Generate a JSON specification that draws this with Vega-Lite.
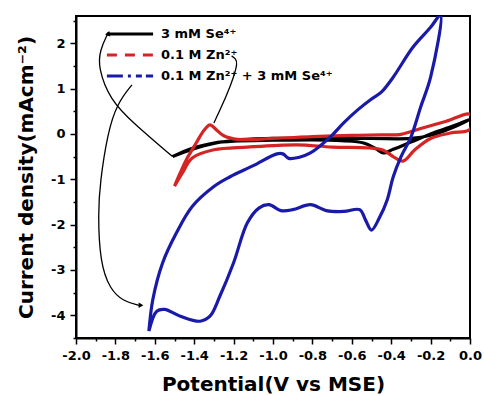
{
  "$schema": "https://vega.github.io/schema/vega-lite/v6.json",
  "width": 394,
  "height": 322,
  "autosize": "none",
  "padding": {"left": 76, "top": 16, "right": 14, "bottom": 58},
  "background": "white",
  "config": {
    "view": {"stroke": "black", "strokeWidth": 2},
    "font": "DejaVu Sans",
    "axis": {"labelOverlap": false}
  },
  "datasets": {
    "cv": [
      {"s": "3 mM Se⁴⁺", "i": 1, "v": -1.51, "c": -0.5},
      {"s": "3 mM Se⁴⁺", "i": 2, "v": -1.45, "c": -0.38},
      {"s": "3 mM Se⁴⁺", "i": 3, "v": -1.39, "c": -0.29},
      {"s": "3 mM Se⁴⁺", "i": 4, "v": -1.3, "c": -0.2},
      {"s": "3 mM Se⁴⁺", "i": 5, "v": -1.2, "c": -0.16},
      {"s": "3 mM Se⁴⁺", "i": 6, "v": -1.0, "c": -0.14},
      {"s": "3 mM Se⁴⁺", "i": 7, "v": -0.8, "c": -0.13},
      {"s": "3 mM Se⁴⁺", "i": 8, "v": -0.65, "c": -0.15},
      {"s": "3 mM Se⁴⁺", "i": 9, "v": -0.54, "c": -0.2},
      {"s": "3 mM Se⁴⁺", "i": 10, "v": -0.48, "c": -0.32},
      {"s": "3 mM Se⁴⁺", "i": 11, "v": -0.44, "c": -0.42},
      {"s": "3 mM Se⁴⁺", "i": 12, "v": -0.39, "c": -0.34},
      {"s": "3 mM Se⁴⁺", "i": 13, "v": -0.3, "c": -0.18},
      {"s": "3 mM Se⁴⁺", "i": 14, "v": -0.2, "c": 0.0},
      {"s": "3 mM Se⁴⁺", "i": 15, "v": -0.1, "c": 0.15},
      {"s": "3 mM Se⁴⁺", "i": 16, "v": 0.0, "c": 0.32},
      {"s": "3 mM Se⁴⁺", "i": 17, "v": -0.1, "c": 0.12},
      {"s": "3 mM Se⁴⁺", "i": 18, "v": -0.2, "c": -0.03},
      {"s": "3 mM Se⁴⁺", "i": 19, "v": -0.3, "c": -0.1},
      {"s": "3 mM Se⁴⁺", "i": 20, "v": -0.5, "c": -0.1},
      {"s": "3 mM Se⁴⁺", "i": 21, "v": -0.8, "c": -0.09},
      {"s": "3 mM Se⁴⁺", "i": 22, "v": -1.0, "c": -0.1},
      {"s": "3 mM Se⁴⁺", "i": 23, "v": -1.2, "c": -0.14},
      {"s": "3 mM Se⁴⁺", "i": 24, "v": -1.35, "c": -0.26},
      {"s": "3 mM Se⁴⁺", "i": 25, "v": -1.45, "c": -0.4},
      {"s": "3 mM Se⁴⁺", "i": 26, "v": -1.51, "c": -0.5},

      {"s": "0.1 M Zn²⁺", "i": 1, "v": -1.5, "c": -1.15},
      {"s": "0.1 M Zn²⁺", "i": 2, "v": -1.47, "c": -0.85},
      {"s": "0.1 M Zn²⁺", "i": 3, "v": -1.44, "c": -0.57},
      {"s": "0.1 M Zn²⁺", "i": 4, "v": -1.39, "c": -0.2},
      {"s": "0.1 M Zn²⁺", "i": 5, "v": -1.35, "c": 0.08},
      {"s": "0.1 M Zn²⁺", "i": 6, "v": -1.32, "c": 0.2},
      {"s": "0.1 M Zn²⁺", "i": 7, "v": -1.29, "c": 0.1},
      {"s": "0.1 M Zn²⁺", "i": 8, "v": -1.25, "c": -0.04},
      {"s": "0.1 M Zn²⁺", "i": 9, "v": -1.18, "c": -0.12},
      {"s": "0.1 M Zn²⁺", "i": 10, "v": -1.0, "c": -0.1},
      {"s": "0.1 M Zn²⁺", "i": 11, "v": -0.8, "c": -0.06},
      {"s": "0.1 M Zn²⁺", "i": 12, "v": -0.6, "c": -0.03},
      {"s": "0.1 M Zn²⁺", "i": 13, "v": -0.45, "c": -0.02},
      {"s": "0.1 M Zn²⁺", "i": 14, "v": -0.35, "c": -0.01},
      {"s": "0.1 M Zn²⁺", "i": 15, "v": -0.25, "c": 0.12},
      {"s": "0.1 M Zn²⁺", "i": 16, "v": -0.12, "c": 0.28},
      {"s": "0.1 M Zn²⁺", "i": 17, "v": 0.0, "c": 0.43},
      {"s": "0.1 M Zn²⁺", "i": 18, "v": 0.0, "c": 0.1},
      {"s": "0.1 M Zn²⁺", "i": 19, "v": -0.1, "c": 0.02},
      {"s": "0.1 M Zn²⁺", "i": 20, "v": -0.2, "c": -0.1},
      {"s": "0.1 M Zn²⁺", "i": 21, "v": -0.28, "c": -0.35},
      {"s": "0.1 M Zn²⁺", "i": 22, "v": -0.34, "c": -0.6},
      {"s": "0.1 M Zn²⁺", "i": 23, "v": -0.39, "c": -0.5},
      {"s": "0.1 M Zn²⁺", "i": 24, "v": -0.44, "c": -0.36},
      {"s": "0.1 M Zn²⁺", "i": 25, "v": -0.51, "c": -0.31},
      {"s": "0.1 M Zn²⁺", "i": 26, "v": -0.7, "c": -0.29},
      {"s": "0.1 M Zn²⁺", "i": 27, "v": -0.88, "c": -0.24},
      {"s": "0.1 M Zn²⁺", "i": 28, "v": -1.13, "c": -0.29},
      {"s": "0.1 M Zn²⁺", "i": 29, "v": -1.3, "c": -0.35},
      {"s": "0.1 M Zn²⁺", "i": 30, "v": -1.41, "c": -0.53},
      {"s": "0.1 M Zn²⁺", "i": 31, "v": -1.46, "c": -0.86},
      {"s": "0.1 M Zn²⁺", "i": 32, "v": -1.5, "c": -1.15},

      {"s": "0.1 M Zn²⁺ + 3 mM Se⁴⁺", "i": 1, "v": -1.63, "c": -4.35},
      {"s": "0.1 M Zn²⁺ + 3 mM Se⁴⁺", "i": 2, "v": -1.61, "c": -3.65},
      {"s": "0.1 M Zn²⁺ + 3 mM Se⁴⁺", "i": 3, "v": -1.56, "c": -2.84},
      {"s": "0.1 M Zn²⁺ + 3 mM Se⁴⁺", "i": 4, "v": -1.49, "c": -2.18},
      {"s": "0.1 M Zn²⁺ + 3 mM Se⁴⁺", "i": 5, "v": -1.41, "c": -1.6},
      {"s": "0.1 M Zn²⁺ + 3 mM Se⁴⁺", "i": 6, "v": -1.3, "c": -1.16},
      {"s": "0.1 M Zn²⁺ + 3 mM Se⁴⁺", "i": 7, "v": -1.22, "c": -0.95},
      {"s": "0.1 M Zn²⁺ + 3 mM Se⁴⁺", "i": 8, "v": -1.1, "c": -0.7},
      {"s": "0.1 M Zn²⁺ + 3 mM Se⁴⁺", "i": 9, "v": -0.98, "c": -0.44},
      {"s": "0.1 M Zn²⁺ + 3 mM Se⁴⁺", "i": 10, "v": -0.95, "c": -0.44},
      {"s": "0.1 M Zn²⁺ + 3 mM Se⁴⁺", "i": 11, "v": -0.92, "c": -0.54},
      {"s": "0.1 M Zn²⁺ + 3 mM Se⁴⁺", "i": 12, "v": -0.87, "c": -0.52},
      {"s": "0.1 M Zn²⁺ + 3 mM Se⁴⁺", "i": 13, "v": -0.81, "c": -0.42},
      {"s": "0.1 M Zn²⁺ + 3 mM Se⁴⁺", "i": 14, "v": -0.71, "c": -0.07},
      {"s": "0.1 M Zn²⁺ + 3 mM Se⁴⁺", "i": 15, "v": -0.64, "c": 0.25},
      {"s": "0.1 M Zn²⁺ + 3 mM Se⁴⁺", "i": 16, "v": -0.57, "c": 0.53},
      {"s": "0.1 M Zn²⁺ + 3 mM Se⁴⁺", "i": 17, "v": -0.5, "c": 0.77},
      {"s": "0.1 M Zn²⁺ + 3 mM Se⁴⁺", "i": 18, "v": -0.45, "c": 0.92},
      {"s": "0.1 M Zn²⁺ + 3 mM Se⁴⁺", "i": 19, "v": -0.39, "c": 1.25},
      {"s": "0.1 M Zn²⁺ + 3 mM Se⁴⁺", "i": 20, "v": -0.29, "c": 1.91},
      {"s": "0.1 M Zn²⁺ + 3 mM Se⁴⁺", "i": 21, "v": -0.2, "c": 2.35},
      {"s": "0.1 M Zn²⁺ + 3 mM Se⁴⁺", "i": 22, "v": -0.15, "c": 2.62},
      {"s": "0.1 M Zn²⁺ + 3 mM Se⁴⁺", "i": 23, "v": -0.2, "c": 1.25},
      {"s": "0.1 M Zn²⁺ + 3 mM Se⁴⁺", "i": 24, "v": -0.25, "c": 0.6},
      {"s": "0.1 M Zn²⁺ + 3 mM Se⁴⁺", "i": 25, "v": -0.3, "c": -0.07},
      {"s": "0.1 M Zn²⁺ + 3 mM Se⁴⁺", "i": 26, "v": -0.35, "c": -0.5},
      {"s": "0.1 M Zn²⁺ + 3 mM Se⁴⁺", "i": 27, "v": -0.39, "c": -0.95},
      {"s": "0.1 M Zn²⁺ + 3 mM Se⁴⁺", "i": 28, "v": -0.42, "c": -1.45},
      {"s": "0.1 M Zn²⁺ + 3 mM Se⁴⁺", "i": 29, "v": -0.46, "c": -1.85},
      {"s": "0.1 M Zn²⁺ + 3 mM Se⁴⁺", "i": 30, "v": -0.5, "c": -2.12},
      {"s": "0.1 M Zn²⁺ + 3 mM Se⁴⁺", "i": 31, "v": -0.53, "c": -1.9},
      {"s": "0.1 M Zn²⁺ + 3 mM Se⁴⁺", "i": 32, "v": -0.56, "c": -1.67},
      {"s": "0.1 M Zn²⁺ + 3 mM Se⁴⁺", "i": 33, "v": -0.64, "c": -1.71},
      {"s": "0.1 M Zn²⁺ + 3 mM Se⁴⁺", "i": 34, "v": -0.73, "c": -1.69},
      {"s": "0.1 M Zn²⁺ + 3 mM Se⁴⁺", "i": 35, "v": -0.81, "c": -1.56},
      {"s": "0.1 M Zn²⁺ + 3 mM Se⁴⁺", "i": 36, "v": -0.9, "c": -1.67},
      {"s": "0.1 M Zn²⁺ + 3 mM Se⁴⁺", "i": 37, "v": -0.96, "c": -1.69},
      {"s": "0.1 M Zn²⁺ + 3 mM Se⁴⁺", "i": 38, "v": -1.02, "c": -1.56},
      {"s": "0.1 M Zn²⁺ + 3 mM Se⁴⁺", "i": 39, "v": -1.07, "c": -1.63},
      {"s": "0.1 M Zn²⁺ + 3 mM Se⁴⁺", "i": 40, "v": -1.13, "c": -1.96},
      {"s": "0.1 M Zn²⁺ + 3 mM Se⁴⁺", "i": 41, "v": -1.2, "c": -2.84},
      {"s": "0.1 M Zn²⁺ + 3 mM Se⁴⁺", "i": 42, "v": -1.27, "c": -3.58},
      {"s": "0.1 M Zn²⁺ + 3 mM Se⁴⁺", "i": 43, "v": -1.32, "c": -4.02},
      {"s": "0.1 M Zn²⁺ + 3 mM Se⁴⁺", "i": 44, "v": -1.37, "c": -4.13},
      {"s": "0.1 M Zn²⁺ + 3 mM Se⁴⁺", "i": 45, "v": -1.47, "c": -4.02},
      {"s": "0.1 M Zn²⁺ + 3 mM Se⁴⁺", "i": 46, "v": -1.55, "c": -3.87},
      {"s": "0.1 M Zn²⁺ + 3 mM Se⁴⁺", "i": 47, "v": -1.59, "c": -3.91},
      {"s": "0.1 M Zn²⁺ + 3 mM Se⁴⁺", "i": 48, "v": -1.63, "c": -4.35}
    ],
    "arrows": [
      {"a": "a1", "i": 1, "v": -1.51, "c": -0.5},
      {"a": "a1", "i": 2, "v": -1.71, "c": 0.24},
      {"a": "a1", "i": 3, "v": -1.827, "c": 0.75},
      {"a": "a1", "i": 4, "v": -1.888, "c": 1.47},
      {"a": "a1", "i": 5, "v": -1.878, "c": 1.85},
      {"a": "a1", "i": 6, "v": -1.84, "c": 2.2},
      {"a": "a2", "i": 1, "v": -1.716, "c": 1.08},
      {"a": "a2", "i": 2, "v": -1.79, "c": 0.68},
      {"a": "a2", "i": 3, "v": -1.84, "c": 0.02},
      {"a": "a2", "i": 4, "v": -1.878, "c": -1.08},
      {"a": "a2", "i": 5, "v": -1.888, "c": -1.74},
      {"a": "a2", "i": 6, "v": -1.878, "c": -2.84},
      {"a": "a2", "i": 7, "v": -1.827, "c": -3.43},
      {"a": "a2", "i": 8, "v": -1.76, "c": -3.69},
      {"a": "a2", "i": 9, "v": -1.68, "c": -3.78},
      {"a": "a3", "i": 1, "v": -1.3, "c": 0.24},
      {"a": "a3", "i": 2, "v": -1.23, "c": 0.9},
      {"a": "a3", "i": 3, "v": -1.2, "c": 1.25},
      {"a": "a3", "i": 4, "v": -1.18, "c": 1.56},
      {"a": "a3", "i": 5, "v": -1.19, "c": 1.66},
      {"a": "a3", "i": 6, "v": -1.21, "c": 1.72}
    ],
    "heads": [
      {"h": "up", "v": -1.835, "c": 2.22},
      {"h": "right", "v": -1.67, "c": -3.78}
    ]
  },
  "layer": [
    {
      "data": {"name": "cv"},
      "mark": {"type": "line", "strokeWidth": 3.2, "interpolate": "catmull-rom", "clip": true},
      "encoding": {
        "x": {
          "field": "v", "type": "quantitative",
          "scale": {"domain": [-2.0, 0.0], "nice": false, "zero": false},
          "axis": {
            "title": "Potential(V vs MSE)",
            "values": [-2.0, -1.9, -1.8, -1.7, -1.6, -1.5, -1.4, -1.3, -1.2, -1.1, -1.0, -0.9, -0.8, -0.7, -0.6, -0.5, -0.4, -0.3, -0.2, -0.1, 0.0],
            "tickCount": 100,
            "labelExpr": "abs(datum.value*5 - round(datum.value*5)) < 0.001 ? (datum.value < -0.001 ? '-' + format(-datum.value, '.1f') : '0.0') : ''",
            "tickSize": {"condition": {"test": "abs(datum.value*5 - round(datum.value*5)) < 0.001", "value": 6}, "value": 3},
            "tickColor": "black", "tickWidth": 1.5,
            "domainColor": "black", "domainWidth": 2,
            "grid": false,
            "labelFont": "DejaVu Sans", "labelFontWeight": "bold", "labelFontSize": 13, "labelColor": "black",
            "labelPadding": 5, "labelFlush": false, "labelOverlap": false, "labelBound": false,
            "titleFont": "DejaVu Sans", "titleFontWeight": "bold", "titleFontSize": 20, "titleColor": "black",
            "titlePadding": 12
          }
        },
        "y": {
          "field": "c", "type": "quantitative",
          "scale": {"domain": [-4.5, 2.6], "nice": false, "zero": false},
          "axis": {
            "title": "Current density(mAcm⁻²)",
            "values": [-4.5, -4, -3.5, -3, -2.5, -2, -1.5, -1, -0.5, 0, 0.5, 1, 1.5, 2, 2.5],
            "tickCount": 100,
            "labelExpr": "abs(datum.value - round(datum.value)) < 0.001 ? (datum.value < 0 ? '-' + format(-datum.value, 'd') : format(datum.value, 'd')) : ''",
            "tickSize": {"condition": {"test": "abs(datum.value - round(datum.value)) < 0.001", "value": 6}, "value": 3},
            "tickColor": "black", "tickWidth": 1.5,
            "domainColor": "black", "domainWidth": 2,
            "grid": false,
            "labelFont": "DejaVu Sans", "labelFontWeight": "bold", "labelFontSize": 13, "labelColor": "black",
            "labelPadding": 5, "labelFlush": false, "labelOverlap": false, "labelBound": false,
            "titleFont": "DejaVu Sans", "titleFontWeight": "bold", "titleFontSize": 20, "titleColor": "black",
            "titlePadding": 14
          }
        },
        "order": {"field": "i", "type": "quantitative"},
        "color": {
          "field": "s", "type": "nominal",
          "scale": {"domain": ["3 mM Se⁴⁺", "0.1 M Zn²⁺", "0.1 M Zn²⁺ + 3 mM Se⁴⁺"], "range": ["#000000", "#d42424", "#1a1aa8"]},
          "legend": {
            "orient": "none", "legendX": 42, "legendY": 6,
            "title": null,
            "symbolType": "M-2.2,0H2.2",
            "symbolSize": 441,
            "symbolStrokeWidth": 3,
            "labelFont": "DejaVu Sans", "labelFontWeight": "bold", "labelFontSize": 13, "labelColor": "black",
            "labelOffset": 19,
            "labelLimit": 400,
            "rowPadding": 2,
            "encode": {"symbols": {"update": {"strokeDash": {"signal": "datum.value === '0.1 M Zn²⁺' ? [10,8] : datum.value === '0.1 M Zn²⁺ + 3 mM Se⁴⁺' ? [16,5,3,5,6,4] : [1,0]"}}}}
          }
        }
      }
    },
    {
      "data": {"name": "arrows"},
      "mark": {"type": "line", "color": "black", "strokeWidth": 1.3, "interpolate": "basis"},
      "encoding": {
        "x": {"field": "v", "type": "quantitative"},
        "y": {"field": "c", "type": "quantitative"},
        "detail": {"field": "a", "type": "nominal"},
        "order": {"field": "i", "type": "quantitative"}
      }
    },
    {
      "data": {"name": "heads"},
      "transform": [{"filter": "datum.h === 'up'"}],
      "mark": {"type": "point", "shape": "triangle-up", "filled": true, "color": "black", "size": 30, "angle": 20, "opacity": 1},
      "encoding": {
        "x": {"field": "v", "type": "quantitative"},
        "y": {"field": "c", "type": "quantitative"}
      }
    },
    {
      "data": {"name": "heads"},
      "transform": [{"filter": "datum.h === 'right'"}],
      "mark": {"type": "point", "shape": "triangle-right", "filled": true, "color": "black", "size": 30, "opacity": 1},
      "encoding": {
        "x": {"field": "v", "type": "quantitative"},
        "y": {"field": "c", "type": "quantitative"}
      }
    }
  ]
}
